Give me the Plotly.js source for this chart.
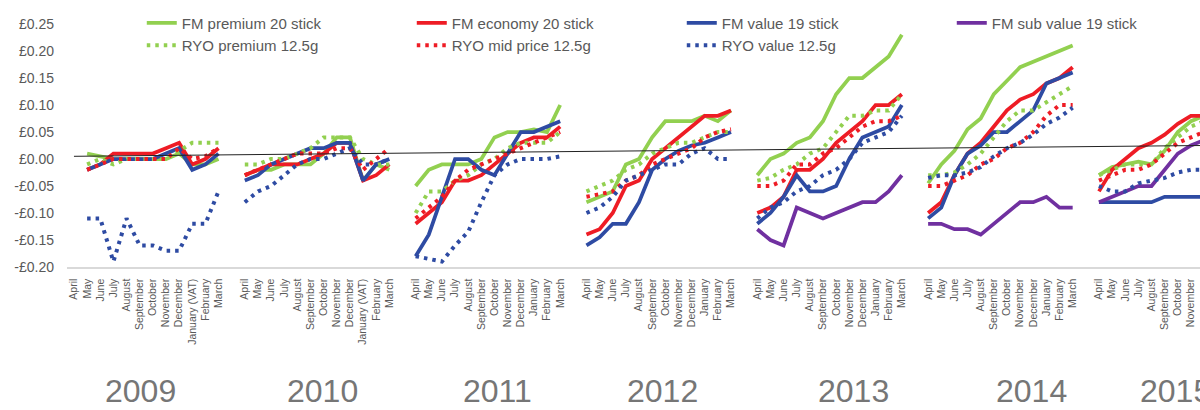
<!DOCTYPE html>
<html>
<head>
<meta charset="utf-8">
<script src="https://cdn.plot.ly/plotly-3.0.1.min.js"></script>
<style>
  html, body { margin: 0; padding: 0; background: #ffffff; }
  #chart { width: 1200px; height: 410px; }
</style>
</head>
<body>
<div id="chart"></div>
<script>
// ---------- data ----------
const months = ['April','May','June','July','August','September','October','November','December','January','February','March'];
const vatJanuaryLabel = 'January (VAT)';
const vatYears = ['2009', '2010'];
const years = ['2009','2010','2011','2012','2013','2014','2015'];

const yTickVals = [-0.20, -0.15, -0.10, -0.05, 0.00, 0.05, 0.10, 0.15, 0.20, 0.25];
const yTickText = ['-£0.20','-£0.15','-£0.10','-£0.05','£0.00','£0.05','£0.10','£0.15','£0.20','£0.25'];

// values per year, April..March (2015 runs April..December)
const fmPremium = [
  [null, 0.01, 0.005, 0.0, 0.0, 0.0, 0.0, 0.0, 0.01, -0.01, -0.01, 0.0],
  [-0.03, -0.02, -0.02, -0.01, -0.01, -0.01, 0.01, 0.04, 0.04, -0.04, -0.01, -0.02],
  [-0.05, -0.02, -0.01, -0.01, -0.01, 0.0, 0.04, 0.05, 0.05, 0.055, 0.05, 0.10],
  [-0.08, -0.07, -0.06, -0.01, 0.0, 0.04, 0.07, 0.07, 0.07, 0.08, 0.07, 0.09],
  [-0.03, 0.0, 0.01, 0.03, 0.04, 0.07, 0.12, 0.15, 0.15, 0.17, 0.19, 0.23],
  [-0.045, -0.01, 0.015, 0.055, 0.075, 0.12, 0.145, 0.17, 0.18, 0.19, 0.20, 0.21],
  [-0.03, -0.015, -0.01, -0.005, -0.01, 0.015, 0.05, 0.07, 0.08]
];
const fmEconomy = [
  [null, -0.02, -0.01, 0.01, 0.01, 0.01, 0.01, 0.02, 0.03, -0.01, 0.0, 0.02],
  [-0.03, -0.02, -0.01, -0.01, -0.01, 0.0, 0.01, 0.03, 0.03, -0.04, -0.03, -0.01],
  [-0.12, -0.10, -0.08, -0.04, -0.04, -0.03, -0.01, 0.01, 0.03, 0.04, 0.04, 0.06],
  [-0.14, -0.13, -0.10, -0.05, -0.04, 0.0, 0.02, 0.04, 0.06, 0.08, 0.08, 0.09],
  [-0.10, -0.09, -0.07, -0.02, -0.02, 0.0, 0.03, 0.05, 0.07, 0.10, 0.10, 0.12],
  [-0.10, -0.08, -0.03, 0.01, 0.03, 0.06, 0.09, 0.11, 0.12, 0.14, 0.15, 0.17],
  [-0.06, -0.02, 0.0, 0.02, 0.03, 0.045, 0.065, 0.08, 0.08]
];
const fmValue = [
  [null, -0.02, -0.01, 0.0, 0.0, 0.0, 0.0, 0.01, 0.02, -0.02, -0.01, 0.01],
  [-0.04, -0.03, -0.01, 0.0, 0.01, 0.02, 0.02, 0.03, 0.03, -0.04, -0.01, 0.0],
  [-0.18, -0.14, -0.07, 0.0, 0.0, -0.02, -0.03, 0.01, 0.05, 0.05, 0.06, 0.07],
  [-0.16, -0.145, -0.12, -0.12, -0.08, -0.02, 0.0, 0.015, 0.025, 0.03, 0.04, 0.05],
  [-0.12, -0.10, -0.07, -0.03, -0.06, -0.06, -0.05, 0.0, 0.04, 0.05, 0.06, 0.10],
  [-0.11, -0.09, -0.03, 0.01, 0.025, 0.05, 0.05, 0.07, 0.09, 0.14, 0.15, 0.16],
  [-0.08, -0.08, -0.08, -0.08, -0.08, -0.07, -0.07, -0.07, -0.07]
];
const fmSubValue = [
  [], [], [], [],
  [-0.13, -0.15, -0.16, -0.09, -0.10, -0.11, -0.10, -0.09, -0.08, -0.08, -0.06, -0.03],
  [-0.12, -0.12, -0.13, -0.13, -0.14, -0.12, -0.10, -0.08, -0.08, -0.07, -0.09, -0.09],
  [-0.08, -0.07, -0.06, -0.05, -0.05, -0.02, 0.01, 0.025, 0.035]
];
const ryoPremium = [
  [null, -0.01, 0.0, -0.01, 0.0, 0.0, 0.0, 0.0, 0.015, 0.03, 0.03, 0.03],
  [-0.01, -0.01, 0.0, 0.0, 0.01, 0.02, 0.04, 0.04, 0.04, 0.0, -0.01, -0.01],
  [-0.10, -0.06, -0.06, -0.04, -0.03, -0.01, 0.0, 0.02, 0.03, 0.03, 0.03, 0.05],
  [-0.06, -0.05, -0.04, -0.02, -0.01, 0.01, 0.02, 0.03, 0.03, 0.04, 0.05, 0.05],
  [-0.04, -0.035, -0.02, -0.01, 0.01, 0.02, 0.05, 0.08, 0.08, 0.09, 0.09, 0.12],
  [-0.03, -0.03, -0.025, -0.01, 0.01, 0.04, 0.07, 0.09, 0.09, 0.105, 0.12, 0.135],
  [-0.03, -0.02, -0.01, -0.01, -0.01, 0.02, 0.04, 0.06, 0.07]
];
const ryoMidPrice = [
  [null, -0.02, -0.01, 0.0, 0.0, 0.0, 0.0, 0.0, 0.02, 0.0, 0.005, 0.02],
  [-0.03, -0.02, -0.01, 0.0, 0.01, 0.01, 0.01, 0.02, 0.02, -0.02, 0.0, 0.02],
  [-0.11, -0.09, -0.07, -0.04, -0.02, -0.01, 0.0, 0.01, 0.02, 0.03, 0.04, 0.05],
  [-0.07, -0.065, -0.06, -0.04, -0.03, -0.01, 0.0, 0.01, 0.02, 0.04, 0.05, 0.055],
  [-0.05, -0.05, -0.04, -0.01, -0.01, 0.01, 0.02, 0.04, 0.06, 0.07, 0.07, 0.08],
  [-0.05, -0.05, -0.04, -0.03, -0.01, 0.0, 0.02, 0.03, 0.05, 0.08, 0.10, 0.10],
  [-0.04, -0.03, -0.02, -0.02, -0.01, 0.01, 0.03, 0.04, 0.05]
];
const ryoValue = [
  [null, -0.11, -0.11, -0.19, -0.11, -0.16, -0.16, -0.17, -0.17, -0.12, -0.12, -0.06],
  [-0.08, -0.06, -0.05, -0.03, -0.01, 0.0, 0.0, 0.01, 0.02, -0.01, -0.01, 0.0],
  [-0.18, -0.185, -0.19, -0.16, -0.135, -0.08, -0.03, -0.01, 0.0, 0.0, 0.0, 0.005],
  [-0.10, -0.09, -0.07, -0.04, -0.03, -0.02, -0.01, -0.01, 0.01, 0.02, 0.0, 0.0],
  [-0.11, -0.09, -0.08, -0.06, -0.05, -0.03, -0.02, 0.0, 0.03, 0.04, 0.05, 0.08],
  [-0.035, -0.03, -0.03, -0.025, -0.015, 0.005, 0.02, 0.03, 0.045, 0.065, 0.077, 0.095],
  [-0.05, -0.06, -0.06, -0.045, -0.04, -0.035, -0.025, -0.02, -0.02]
];
// linear trend line (start and end of the category run)
const trendX = [0, 86];
const trendY = [0.005, 0.025];

// ---------- build ----------
const SLOTS = 13; // 12 months + 1 empty slot between years
function flatten(yearArrays) {
  const xs = [], ys = [];
  yearArrays.forEach((arr, y) => {
    arr.forEach((v, m) => { xs.push(SLOTS * y + m); ys.push(v); });
    xs.push(SLOTS * y + 12); ys.push(null);
  });
  return { x: xs, y: ys };
}

const tickVals = [], tickText = [];
years.forEach((yr, y) => {
  months.forEach((mName, m) => {
    tickVals.push(SLOTS * y + m);
    tickText.push(m === 9 && vatYears.includes(yr) ? vatJanuaryLabel : mName);
  });
});

const GREEN = '#92d050', RED = '#ee1c25', BLUE = '#2e4ba3', PURPLE = '#7030a0';
const SOLID_W = 3.75, DOT_W = 4;
const DOTS = '3.5px,5px';

function series(name, data, color, dash) {
  const d = flatten(data);
  return {
    type: 'scatter', mode: 'lines', name: name, x: d.x, y: d.y,
    connectgaps: false, hoverinfo: 'skip',
    line: { color: color, width: dash ? DOT_W : SOLID_W, dash: dash || 'solid' }
  };
}

const traces = [
  series('FM premium 20 stick', fmPremium, GREEN),
  series('FM economy 20 stick', fmEconomy, RED),
  series('FM value 19 stick', fmValue, BLUE),
  series('FM sub value 19 stick', fmSubValue, PURPLE),
  series('RYO premium 12.5g', ryoPremium, GREEN, DOTS),
  series('RYO mid price 12.5g', ryoMidPrice, RED, DOTS),
  series('RYO value 12.5g', ryoValue, BLUE, DOTS),
  { type: 'scatter', mode: 'lines', x: trendX, y: trendY, showlegend: false, hoverinfo: 'skip',
    line: { color: '#222222', width: 1 } }
];

const yearLabelShift = [-0.4, 0.45, 0.7, 0.25, 1.8, 2.4, 0.3];
const annotations = years.map((yr, y) => ({
  text: yr, xref: 'x', yref: 'paper', x: SLOTS * y + 5.5 + yearLabelShift[y], y: -0.594,
  xanchor: 'center', yanchor: 'bottom', showarrow: false,
  font: { family: 'Liberation Sans, Arial, sans-serif', size: 32, color: '#767676' }
}));

const layout = {
  width: 1200, height: 410,
  margin: { l: 67, r: 0, t: 24, b: 143, autoexpand: false },
  paper_bgcolor: '#ffffff', plot_bgcolor: '#ffffff',
  font: { family: 'Liberation Sans, Arial, sans-serif', color: '#595959' },
  showlegend: true,
  legend: {
    orientation: 'h', x: 0.066, y: 1.072, xanchor: 'left', yanchor: 'top',
    entrywidth: 225, entrywidthmode: 'pixels', traceorder: 'normal',
    bgcolor: 'rgba(0,0,0,0)', font: { size: 15, color: '#595959' }
  },
  xaxis: {
    range: [-0.53, 85.69], showgrid: false, zeroline: false,
    showline: true, linecolor: '#d9d9d9', linewidth: 1.5,
    tickmode: 'array', tickvals: tickVals, ticktext: tickText,
    tickangle: -90, ticks: '', ticklabelstandoff: 6,
    tickfont: { size: 10.5, color: '#595959' }
  },
  yaxis: {
    range: [-0.2, 0.25], showgrid: false, zeroline: false, showline: false,
    tickmode: 'array', tickvals: yTickVals, ticktext: yTickText,
    ticks: '', ticklabelstandoff: 12,
    tickfont: { size: 14, color: '#595959' }
  },
  annotations: annotations
};

Plotly.newPlot('chart', traces, layout, { displayModeBar: false, staticPlot: true });
</script>
</body>
</html>
